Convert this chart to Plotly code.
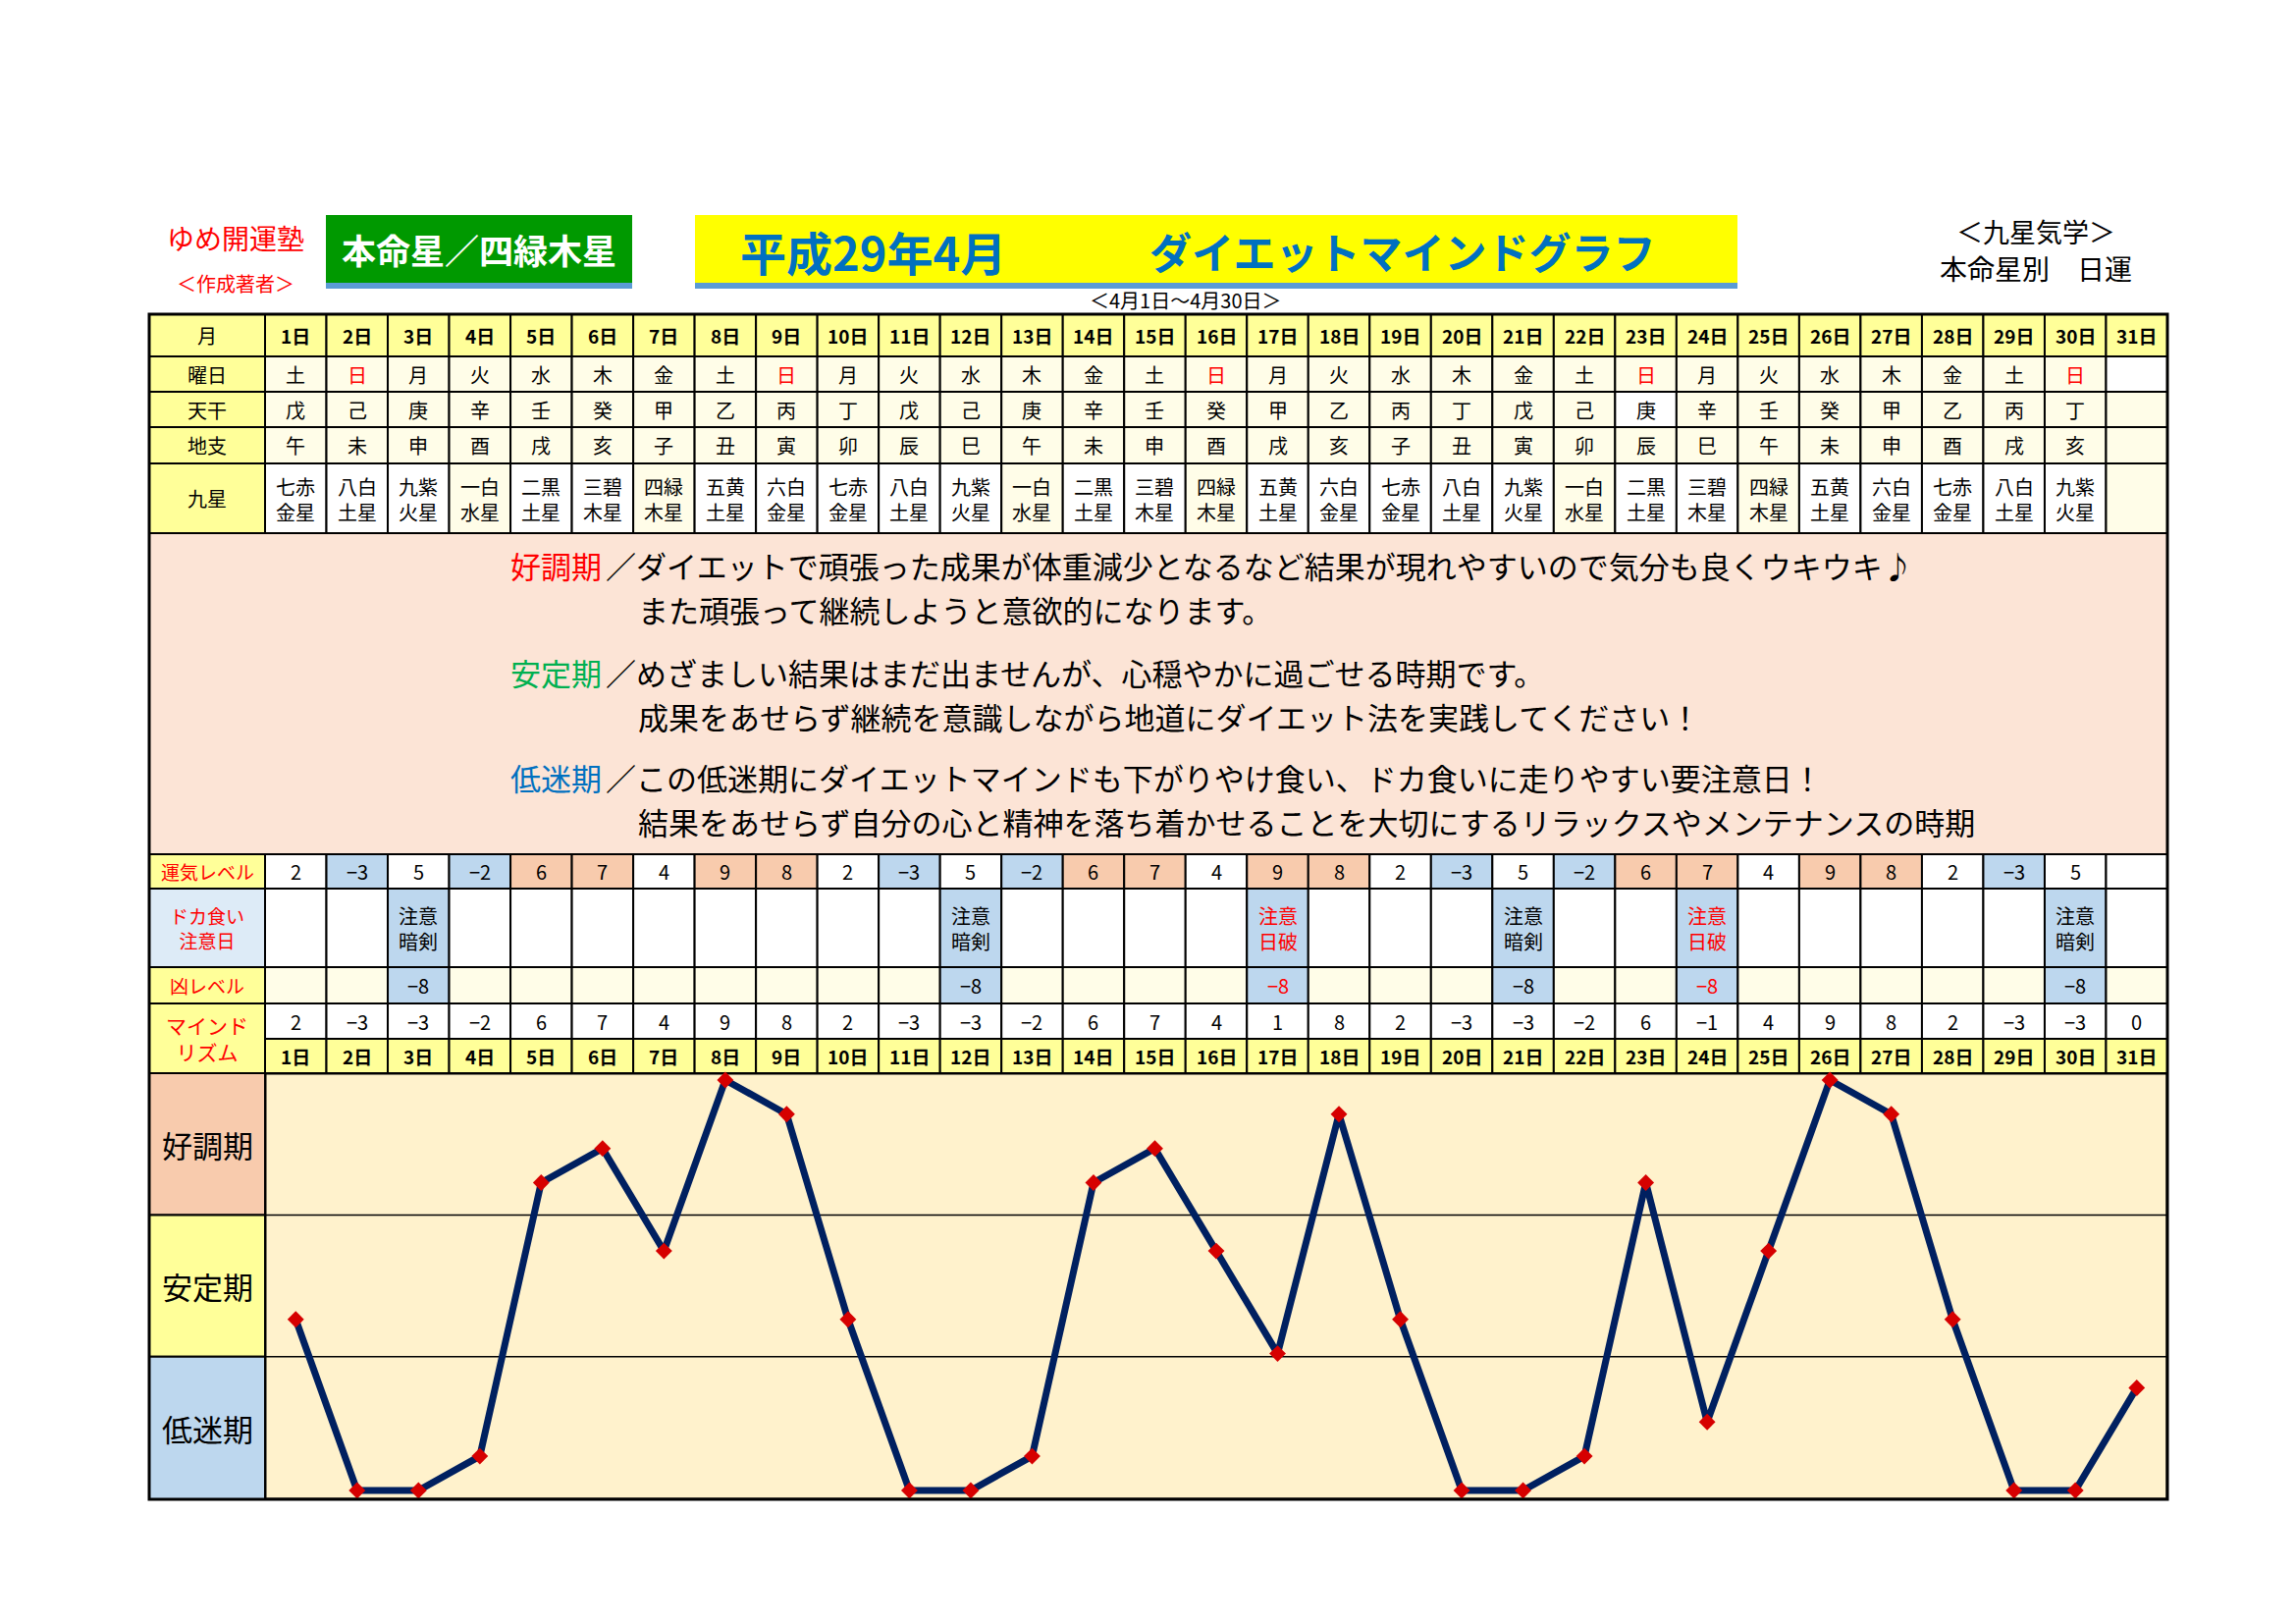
import plotly.graph_objects as go

W, H = 2339, 1654
FONT = "Noto Sans CJK JP"

# ---------------- data ----------------
days = list(range(1, 32))
day_labels = [f"{d}日" for d in days]
weekdays = ["土", "日", "月", "火", "水", "木", "金", "土", "日", "月", "火", "水", "木", "金", "土",
            "日", "月", "火", "水", "木", "金", "土", "日", "月", "火", "水", "木", "金", "土", "日", ""]
tenkan = ["戊", "己", "庚", "辛", "壬", "癸", "甲", "乙", "丙", "丁", "戊", "己", "庚", "辛", "壬",
          "癸", "甲", "乙", "丙", "丁", "戊", "己", "庚", "辛", "壬", "癸", "甲", "乙", "丙", "丁", ""]
chishi = ["午", "未", "申", "酉", "戌", "亥", "子", "丑", "寅", "卯", "辰", "巳", "午", "未", "申",
          "酉", "戌", "亥", "子", "丑", "寅", "卯", "辰", "巳", "午", "未", "申", "酉", "戌", "亥", ""]
kyusei = ["七赤金星", "八白土星", "九紫火星", "一白水星", "二黒土星", "三碧木星", "四緑木星", "五黄土星",
          "六白金星", "七赤金星", "八白土星", "九紫火星", "一白水星", "二黒土星", "三碧木星", "四緑木星",
          "五黄土星", "六白金星", "七赤金星", "八白土星", "九紫火星", "一白水星", "二黒土星", "三碧木星",
          "四緑木星", "五黄土星", "六白金星", "七赤金星", "八白土星", "九紫火星", ""]
unki = [2, -3, 5, -2, 6, 7, 4, 9, 8, 2, -3, 5, -2, 6, 7, 4, 9, 8, 2, -3, 5, -2, 6, 7, 4, 9, 8, 2, -3, 5, None]
dokagui = ["", "", "注意暗剣", "", "", "", "", "", "", "", "", "注意暗剣", "", "", "", "",
           "注意日破", "", "", "", "注意暗剣", "", "", "注意日破", "", "", "", "", "", "注意暗剣", ""]
kyo = [None, None, -8, None, None, None, None, None, None, None, None, -8, None, None, None, None,
       -8, None, None, None, -8, None, None, -8, None, None, None, None, None, -8, None]
mind = [2, -3, -3, -2, 6, 7, 4, 9, 8, 2, -3, -3, -2, 6, 7, 4, 1, 8, 2, -3, -3, -2, 6, -1, 4, 9, 8, 2, -3, -3, 0]

zones = ["好調期", "安定期", "低迷期"]
row_labels = ["月", "曜日", "天干", "地支", "九星"]

desc = [
    ("好調期", "#ff0000", "／ダイエットで頑張った成果が体重減少となるなど結果が現れやすいので気分も良くウキウキ♪",
     "また頑張って継続しようと意欲的になります。"),
    ("安定期", "#00b050", "／めざましい結果はまだ出ませんが、心穏やかに過ごせる時期です。",
     "成果をあせらず継続を意識しながら地道にダイエット法を実践してください！"),
    ("低迷期", "#0070c0", "／この低迷期にダイエットマインドも下がりやけ食い、ドカ食いに走りやすい要注意日！",
     "結果をあせらず自分の心と精神を落ち着かせることを大切にするリラックスやメンテナンスの時期"),
]

# ---------------- styles / geometry ----------------
YELLOW = "#ffff99"
CREAM = "#fffde8"
WHITE = "#ffffff"
BLUE = "#bdd7ee"
PEACH = "#f8cbad"
LBLUE = "#ddebf7"
CHART_BG = "#fff2cc"
TEXT_BG = "#fce4d6"

TBL_L, LBL_R, TBL_R = 144, 262, 2200
COLW = (TBL_R - LBL_R) / 31
X_LEFT = 0.5 - (LBL_R - TBL_L) / COLW
# row boundaries (px from top)
ROWS = [312, 355, 391, 427, 464, 535]
TXT_B = 862
UNKI_B, DOKA_B, KYO_B, MIND_B, DAY_B, CHART_B = 897, 977, 1014, 1050, 1085, 1519
Y_MIN, Y_MAX = -3.26, 9.2
ZONE_EDGES = [Y_MAX, 5.05, 0.91, Y_MIN]


def yp(p):
    return 1 - p / H


def xp(p):
    return p / W


shapes = []
annotations = []


def cell(x0, x1, top, bot, fill, lw=2):
    shapes.append(dict(type="rect", xref="x", yref="paper", x0=x0, x1=x1, y0=yp(bot), y1=yp(top),
                       fillcolor=fill, line=dict(color="black", width=lw), layer="below"))


def txt(x, ypx, s, size, color="black", bold=False, xref="x", xanchor="center", align="center"):
    if bold:
        s = f"<b>{s}</b>"
    annotations.append(dict(x=x, y=yp(ypx), xref=xref, yref="paper", text=s, showarrow=False,
                            font=dict(size=size, color=color, family=FONT),
                            xanchor=xanchor, yanchor="middle", align=align))


def fmt(v):
    if v is None:
        return ""
    return str(v).replace("-", "−")


# ---------------- upper table ----------------
for r, lab in enumerate(row_labels):
    top, bot = ROWS[r], ROWS[r + 1]
    cy = (top + bot) / 2
    cell(X_LEFT, 0.5, top, bot, YELLOW)
    txt((X_LEFT + 0.5) / 2, cy, lab, 20)
    for i, d in enumerate(days):
        if r == 0:
            fill, s, col, b = YELLOW, day_labels[i], "black", True
        elif r == 1:
            fill = CREAM if weekdays[i] else WHITE
            s, col, b = weekdays[i], ("#ff0000" if weekdays[i] == "日" else "black"), False
        elif r == 2:
            fill = WHITE if tenkan[i] == "庚" and d > 20 else CREAM
            s, col, b = tenkan[i], "black", False
        elif r == 3:
            fill, s, col, b = CREAM, chishi[i], "black", False
        else:
            k = kyusei[i]
            fill = CREAM if (k[:2] in ("一白", "四緑") or not k) else WHITE
            s = k[:2] + "<br>" + k[2:] if k else ""
            col, b = "black", False
        cell(d - 0.5, d + 0.5, top, bot, fill)
        if s:
            txt(d, cy + (1 if r == 4 else 0), s, 20 if r else 19, col, b)

# ---------------- description box ----------------
cell(X_LEFT, 31.5, ROWS[-1], TXT_B, TEXT_BG)
para_y = [590, 699, 806]
HEAD_X, BODY_X, SECOND_X, GAP = 510, 607, 640, 22.6
for (head, colr, rest, second), yc in zip(desc, para_y):
    txt(xp(HEAD_X), yc - GAP, head, 31, colr, xref="paper", xanchor="left")
    txt(xp(BODY_X), yc - GAP, rest, 31, xref="paper", xanchor="left")
    txt(xp(SECOND_X), yc + GAP, second, 31, xref="paper", xanchor="left")

# ---------------- level rows ----------------
cell(X_LEFT, 0.5, TXT_B, UNKI_B, YELLOW)
txt((X_LEFT + 0.5) / 2, (TXT_B + UNKI_B) / 2, "運気レベル", 19, "#ff0000")
cell(X_LEFT, 0.5, UNKI_B, DOKA_B, LBLUE)
txt((X_LEFT + 0.5) / 2, (UNKI_B + DOKA_B) / 2, "ドカ食い<br>注意日", 19, "#ff0000")
cell(X_LEFT, 0.5, DOKA_B, KYO_B, YELLOW)
txt((X_LEFT + 0.5) / 2, (DOKA_B + KYO_B) / 2, "凶レベル", 19, "#ff0000")
cell(X_LEFT, 0.5, KYO_B, DAY_B, YELLOW)
txt((X_LEFT + 0.5) / 2, (KYO_B + DAY_B) / 2, "マインド<br>リズム", 21, "#ff0000")

for i, d in enumerate(days):
    u = unki[i]
    fill = WHITE if u is None else (BLUE if u <= -2 else (PEACH if u >= 6 else WHITE))
    cell(d - 0.5, d + 0.5, TXT_B, UNKI_B, fill)
    txt(d, (TXT_B + UNKI_B) / 2, fmt(u), 20)

    dk = dokagui[i]
    cell(d - 0.5, d + 0.5, UNKI_B, DOKA_B, BLUE if dk else WHITE)
    red = "日破" in dk
    if dk:
        txt(d, (UNKI_B + DOKA_B) / 2, dk[:2] + "<br>" + dk[2:], 20, "#ff0000" if red else "black")

    kv = kyo[i]
    cell(d - 0.5, d + 0.5, DOKA_B, KYO_B, BLUE if kv is not None else CREAM)
    if kv is not None:
        txt(d, (DOKA_B + KYO_B) / 2, fmt(kv), 20, "#ff0000" if red else "black")

    cell(d - 0.5, d + 0.5, KYO_B, MIND_B, WHITE)
    txt(d, (KYO_B + MIND_B) / 2, fmt(mind[i]), 20)

    cell(d - 0.5, d + 0.5, MIND_B, DAY_B, YELLOW)
    txt(d, (MIND_B + DAY_B) / 2, day_labels[i], 19, bold=True)

# ---------------- chart area ----------------
shapes.append(dict(type="rect", xref="x", yref="y", x0=0.5, x1=31.5, y0=Y_MIN, y1=Y_MAX,
                   fillcolor=CHART_BG, line=dict(color="black", width=3), layer="below"))
zone_fill = [PEACH, YELLOW, BLUE]
for z, name in enumerate(zones):
    hi, lo = ZONE_EDGES[z], ZONE_EDGES[z + 1]
    shapes.append(dict(type="rect", xref="x", yref="y", x0=X_LEFT, x1=0.5, y0=lo, y1=hi,
                       fillcolor=zone_fill[z], line=dict(color="black", width=2), layer="below"))
    annotations.append(dict(x=(X_LEFT + 0.5) / 2, y=(hi + lo) / 2, xref="x", yref="y", text=name,
                            showarrow=False, font=dict(size=31, color="black", family=FONT)))
    if z > 0:
        shapes.append(dict(type="line", xref="x", yref="y", x0=0.5, x1=31.5, y0=hi, y1=hi,
                           line=dict(color="black", width=1.5), layer="below"))

# outer border of whole table
shapes.append(dict(type="rect", xref="paper", yref="paper", x0=xp(TBL_L), x1=xp(TBL_R),
                   y0=yp(CHART_B), y1=yp(ROWS[0]), line=dict(color="black", width=3),
                   fillcolor="rgba(0,0,0,0)", layer="above"))

# ---------------- header ----------------
shapes += [
    dict(type="rect", xref="paper", yref="paper", x0=xp(324), x1=xp(636), y0=yp(280), y1=yp(211),
         fillcolor="#009900", line=dict(width=0), layer="below"),
    dict(type="rect", xref="paper", yref="paper", x0=xp(324), x1=xp(636), y0=yp(286), y1=yp(280),
         fillcolor="#5b9bd5", line=dict(width=0), layer="below"),
    dict(type="rect", xref="paper", yref="paper", x0=xp(700), x1=xp(1762), y0=yp(280), y1=yp(211),
         fillcolor="#ffff00", line=dict(width=0), layer="below"),
    dict(type="rect", xref="paper", yref="paper", x0=xp(700), x1=xp(1762), y0=yp(286), y1=yp(280),
         fillcolor="#5b9bd5", line=dict(width=0), layer="below"),
]
txt(xp(232), 234, "ゆめ開運塾", 28, "#ff0000", xref="paper")
txt(xp(232), 281, "＜作成著者＞", 20, "#ff0000", xref="paper")
txt(xp(480), 246, "本命星／四緑木星", 35, "#ffffff", bold=True, xref="paper")
txt(xp(744), 247, "平成29年4月", 47, "#0070c0", bold=True, xref="paper", xanchor="left")
txt(xp(1161), 247, "ダイエットマインドグラフ", 43, "#0070c0", bold=True, xref="paper", xanchor="left")
txt(xp(1200), 298, "＜4月1日～4月30日＞", 20, xref="paper")
txt(xp(2066), 228, "＜九星気学＞", 27, xref="paper")
txt(xp(2066), 265, "本命星別　日運", 28, xref="paper")

# ---------------- figure ----------------
fig = go.Figure()
fig.add_trace(go.Scatter(x=days, y=mind, mode="lines+markers", cliponaxis=False,
                         line=dict(color="#002060", width=7),
                         marker=dict(symbol="diamond", size=13, color="#d60000"),
                         hoverinfo="x+y", showlegend=False))

fig.update_layout(
    width=W, height=H, margin=dict(l=0, r=0, t=0, b=0),
    paper_bgcolor="white", plot_bgcolor="rgba(0,0,0,0)",
    xaxis=dict(domain=[xp(TBL_L), xp(TBL_R)], range=[X_LEFT, 31.5], visible=False, fixedrange=True),
    yaxis=dict(domain=[yp(CHART_B), yp(DAY_B)], range=[Y_MIN, Y_MAX], visible=False, fixedrange=True),
    shapes=shapes, annotations=annotations,
    font=dict(family=FONT),
)

fig.write_html("out.html")
